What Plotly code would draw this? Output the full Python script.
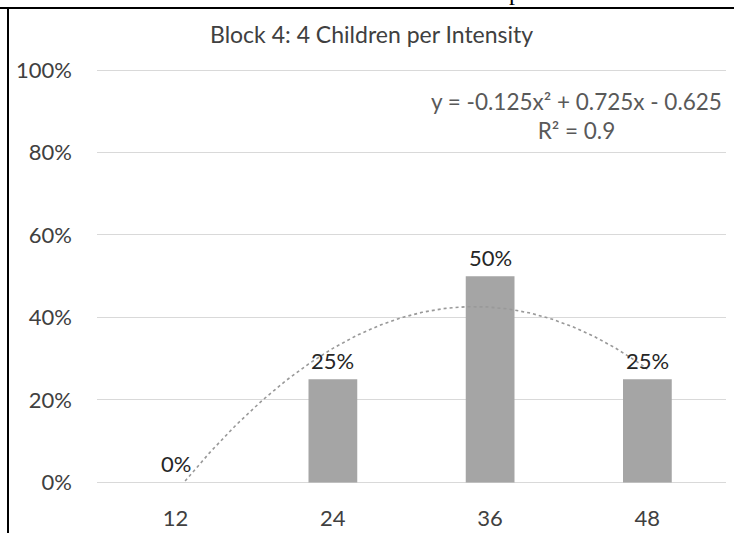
import numpy as np
import plotly.graph_objects as go

# ---- data ----
categories = ["12", "24", "36", "48"]
values = [0.0, 0.25, 0.50, 0.25]
label_texts = ["0%", "25%", "50%", "25%"]
y_tick_vals = [0, 0.2, 0.4, 0.6, 0.8, 1.0]
y_tick_text = ["0%", "20%", "40%", "60%", "80%", "100%"]
title_text = "Block 4: 4 Children per Intensity"

# positions (Excel trendline uses category index 1..n)
idx = np.arange(1, len(categories) + 1)

# polynomial (order 2) trendline fitted to the values
coef = np.polyfit(idx, values, 2)
fit_vals = np.polyval(coef, idx)
ss_res = np.sum((np.array(values) - fit_vals) ** 2)
ss_tot = np.sum((np.array(values) - np.mean(values)) ** 2)
r2 = 1 - ss_res / ss_tot
xs = np.linspace(idx[0], idx[-1], 200)
ys = np.polyval(coef, xs)
ys = np.where(ys < 0, np.nan, ys)

def fmt(c):
    return f"{abs(c):.3f}".rstrip("0").rstrip(".")

a, b, c = coef
eq = f"y = {'-' if a < 0 else ''}{fmt(a)}x² {'-' if b < 0 else '+'} {fmt(b)}x {'-' if c < 0 else '+'} {fmt(c)}"
eq_text = f"{eq}<br>R² = {r2:.1f}"

FONT = "Lato"
W, H = 734, 533
L, R, T, B = 97, 8, 68, 50
pw, ph = W - L - R, H - T - B

def px(xp):
    return (xp - L) / pw

def py(yp):
    return (H - B - yp) / ph

fig = go.Figure()
fig.add_trace(go.Bar(x=idx, y=values, marker=dict(color="#A5A5A5", line=dict(width=0)),
                     width=0.31, hoverinfo="skip", showlegend=False))
fig.add_trace(go.Scatter(x=xs, y=ys, mode="lines",
                         line=dict(color="#999999", width=1.6, dash="dot"),
                         hoverinfo="skip", showlegend=False))

annotations = [
    dict(text=t, xref="x", yref="y", x=xi, y=v, yshift=19,
         xanchor="center", yanchor="middle", showarrow=False,
         font=dict(family=FONT, size=22, color="#262626"))
    for xi, v, t in zip(idx, values, label_texts)
]
annotations += [
    dict(text=title_text, xref="paper", yref="paper", x=px(371), y=py(34),
         xanchor="center", yanchor="middle", showarrow=False,
         font=dict(family=FONT, size=23, color="#404040")),
    dict(text=eq_text, xref="paper", yref="paper", x=px(724), y=py(116),
         xanchor="right", yanchor="middle", align="center", showarrow=False,
         font=dict(family=FONT, size=22.5, color="#595959")),
    dict(text="p", xref="paper", yref="paper", x=px(515), y=py(7),
         xanchor="center", yanchor="bottom", showarrow=False,
         font=dict(family="Liberation Serif", size=24, color="#000000")),
]

fig.update_layout(
    width=W, height=H,
    margin=dict(l=L, r=R, t=T, b=B, pad=0, autoexpand=False),
    paper_bgcolor="white", plot_bgcolor="white",
    font=dict(family=FONT, size=22, color="#404040"),
    bargap=0.69,
    xaxis=dict(range=[0.5, 4.5], tickvals=list(idx), ticktext=categories,
               showgrid=False, zeroline=False, showline=False, ticks="",
               automargin=False,
               tickfont=dict(family=FONT, size=22, color="#404040"), ticklabelstandoff=20),
    yaxis=dict(range=[-0.0015, 1.005], tickvals=y_tick_vals, ticktext=y_tick_text,
               showgrid=True, gridcolor="#D9D9D9", gridwidth=1,
               zeroline=True, zerolinecolor="#D9D9D9", zerolinewidth=1,
               showline=False, ticks="", ticklabelstandoff=24, automargin=False,
               tickfont=dict(family=FONT, size=22, color="#404040")),
    annotations=annotations,
    shapes=[
        dict(type="line", xref="paper", yref="paper", x0=px(0), x1=px(734),
             y0=py(8), y1=py(8), line=dict(color="black", width=2)),
        dict(type="line", xref="paper", yref="paper", x0=px(8), x1=px(8),
             y0=py(8), y1=py(540), line=dict(color="black", width=2)),
    ],
)

fig.write_html("out.html", config={"displayModeBar": False},
               post_script="document.body.style.margin='0';document.body.style.overflow='hidden';")
